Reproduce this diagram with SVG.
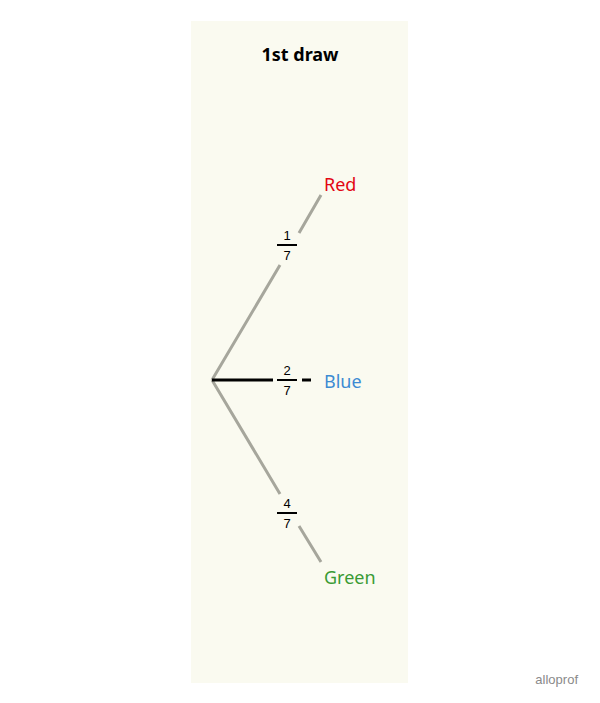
<svg xmlns="http://www.w3.org/2000/svg" width="600" height="703" viewBox="0 0 600 703">
<style>
.br{stroke:#a6a69c;stroke-width:3;fill:none}
.sel{stroke:#000;stroke-width:3;fill:none}
.fb{stroke:#000;stroke-width:2}
.fn{font-family:"Liberation Sans",sans-serif;font-size:13px;text-anchor:middle;fill:#000}
.lb{font-family:"Noto Sans",sans-serif;font-size:18px}
</style>
<rect width="600" height="703" fill="#fff"/>
<rect x="191" y="21" width="217" height="662" fill="#fafaf0"/>
<text x="300" y="61" class="lb" font-weight="bold" text-anchor="middle" fill="#000" font-size="18">1st draw</text>
<g id="connectors">
<path class="br" d="M212 380L280 265M299 233L321 195"/>
<path class="br" d="M212 380L280 494M299 526L321 562"/>
<path class="sel" d="M212 380H273M302 380H311"/>
</g>
<g id="f1"><text x="287" y="240" class="fn">1</text><line class="fb" x1="277" y1="245" x2="297" y2="245"/><text x="287" y="260" class="fn">7</text></g>
<g id="f2"><text x="287" y="375" class="fn">2</text><line class="fb" x1="277" y1="380" x2="297" y2="380"/><text x="287" y="395" class="fn">7</text></g>
<g id="f3"><text x="287" y="508" class="fn">4</text><line class="fb" x1="277" y1="513" x2="297" y2="513"/><text x="287" y="528" class="fn">7</text></g>
<g id="red"><text x="324" y="191" class="lb" fill="#e30613">Red</text></g>
<g id="blue"><text x="324" y="388" class="lb" fill="#3d8bd3">Blue</text></g>
<g id="green"><text x="324" y="584" class="lb" fill="#3a9b35">Green</text></g>
<text x="578" y="684" font-family="Liberation Sans,sans-serif" font-size="13" fill="#8a8a8a" text-anchor="end">alloprof</text>
</svg>
